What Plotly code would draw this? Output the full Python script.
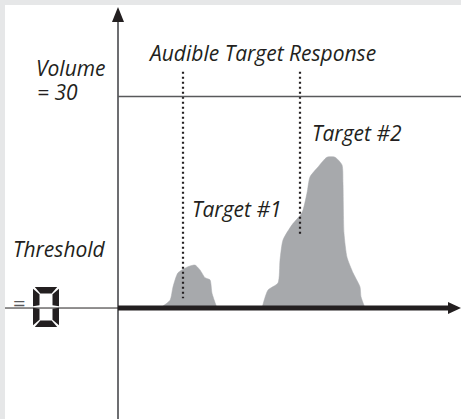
import plotly.graph_objects as go

# Levels (in volume units)
threshold = 0
volume = 30

# Target response profiles
target1_x = [4.2, 5.2, 5.5, 6.0, 6.9, 7.7, 8.2, 8.7, 9.2, 9.4, 9.9]
target1_y = [0, 1.1, 3.0, 5.0, 5.8, 6.1, 5.4, 4.3, 4.0, 2.1, 0]

target2_x = [14.4, 15.0, 16.0, 16.2, 16.5, 17.4, 18.4, 18.9, 19.2, 20.0,
             20.9, 21.7, 22.4, 22.5, 22.6, 22.9, 23.5, 24.2, 24.3, 24.7]
target2_y = [0, 2.55, 3.55, 6.8, 9.65, 11.8, 13.5, 16.3, 18.6, 20.0,
             21.4, 21.4, 20.3, 17.7, 10.6, 7.2, 5.0, 3.0, 1.6, 0]

# Audible response pointers: x position, bottom, top
pointer_x = [6.5, 18.2]
pointer_bottom = [1.4, 10.4]
pointer_top = 33.5

x_range = [-11.3, 34.3]
y_range = [-15.74, 42.98]

fill_color = '#A7A9AC'
ink = '#231F20'
axis_gray = '#6D6E71'


# pixel -> data helpers for decorations (arrow heads, digit)
def dx(px):
    return (px - 118) / 10


def dy(py):
    return (308 - py) / 7.05


def poly(points):
    s = 'M ' + ' L '.join(f'{dx(a):.3f},{dy(b):.3f}' for a, b in points) + ' Z'
    return s


fig = go.Figure()

for xs, ys in [(target1_x, target1_y), (target2_x, target2_y)]:
    fig.add_trace(go.Scatter(
        x=xs, y=ys, mode='lines', fill='toself', fillcolor=fill_color,
        line=dict(color=fill_color, width=0.5, shape='spline', smoothing=0.6),
        hoverinfo='skip', showlegend=False))

for px_, pb in zip(pointer_x, pointer_bottom):
    fig.add_trace(go.Scatter(
        x=[px_, px_], y=[pointer_top, pb], mode='lines',
        line=dict(color=ink, width=2.2, dash='2px,3px'),
        hoverinfo='skip', showlegend=False))

shapes = []
# vertical axis
shapes.append(dict(type='line', xref='x', yref='y', x0=0, x1=0, y0=y_range[0], y1=dy(20),
                   line=dict(color=axis_gray, width=2)))
# volume line
shapes.append(dict(type='line', xref='x', yref='y', x0=0, x1=x_range[1], y0=volume, y1=volume,
                   line=dict(color='#58595B', width=1.3)))
# thin threshold line left of axis
shapes.append(dict(type='line', xref='x', yref='y', x0=dx(5), x1=0, y0=threshold, y1=threshold,
                   line=dict(color=ink, width=1)))
# thick threshold line
shapes.append(dict(type='line', xref='x', yref='y', x0=0, x1=dx(450), y0=threshold, y1=threshold,
                   line=dict(color=ink, width=5)))
# arrow heads
shapes.append(dict(type='path', xref='x', yref='y', fillcolor=ink, line=dict(width=0),
                   path=poly([(112, 22), (118, 7), (124, 22)])))
shapes.append(dict(type='path', xref='x', yref='y', fillcolor=ink, line=dict(width=0),
                   path=poly([(448, 302), (461, 308), (448, 314)])))

# seven-segment "0"
x0, y0, w, h, t, g = 33, 287, 26, 40, 6.5, 0.8
x1, y1, ym = x0 + w, y0 + h, y0 + h / 2
segs = [
    [(x0 + g + 1, y0), (x1 - g - 1, y0), (x1 - t - g, y0 + t), (x0 + t + g, y0 + t)],
    [(x0 + g + 1, y1), (x1 - g - 1, y1), (x1 - t - g, y1 - t), (x0 + t + g, y1 - t)],
    [(x0, y0 + g + 1), (x0 + t, y0 + t + g), (x0 + t, ym - g - 1), (x0, ym - g)],
    [(x0, y1 - g - 1), (x0 + t, y1 - t - g), (x0 + t, ym + g + 1), (x0, ym + g)],
    [(x1, y0 + g + 1), (x1 - t, y0 + t + g), (x1 - t, ym - g - 1), (x1, ym - g)],
    [(x1, y1 - g - 1), (x1 - t, y1 - t - g), (x1 - t, ym + g + 1), (x1, ym + g)],
]
for s in segs:
    shapes.append(dict(type='path', xref='x', yref='y', fillcolor=ink, line=dict(width=0),
                       path=poly(s)))

font = dict(family='Open Sans', size=21, color=ink, style='italic')
labels = [
    ('Audible Target Response', 262, 52.5, 'center'),
    ('Volume', 108, 68, 'right'),
    ('= 30', 35, 92, 'left'),
    ('Target #2', 310, 133, 'left'),
    ('Target #1', 190, 209, 'left'),
    ('Threshold', 108, 249, 'right'),
]
annotations = []
for text, ax_, ay_, anchor in labels:
    annotations.append(dict(text=text, x=dx(ax_), y=dy(ay_), xref='x', yref='y',
                            xanchor=anchor, yanchor='middle', showarrow=False, font=font))
annotations.append(dict(text='=', x=dx(19.5), y=dy(302), xref='x', yref='y',
                        xanchor='center', yanchor='middle', showarrow=False,
                        font=dict(family='Open Sans', size=22, color='#58595B')))

fig.update_layout(
    width=461, height=419,
    margin=dict(l=5, r=0, t=5, b=0, pad=0),
    paper_bgcolor='#E6E7E8',
    plot_bgcolor='white',
    xaxis=dict(range=x_range, visible=False, fixedrange=True),
    yaxis=dict(range=y_range, visible=False, fixedrange=True),
    shapes=shapes,
    annotations=annotations,
    showlegend=False,
)

fig.write_html("out.html", config={'displayModeBar': False},
               post_script="document.body.style.margin='0';")
